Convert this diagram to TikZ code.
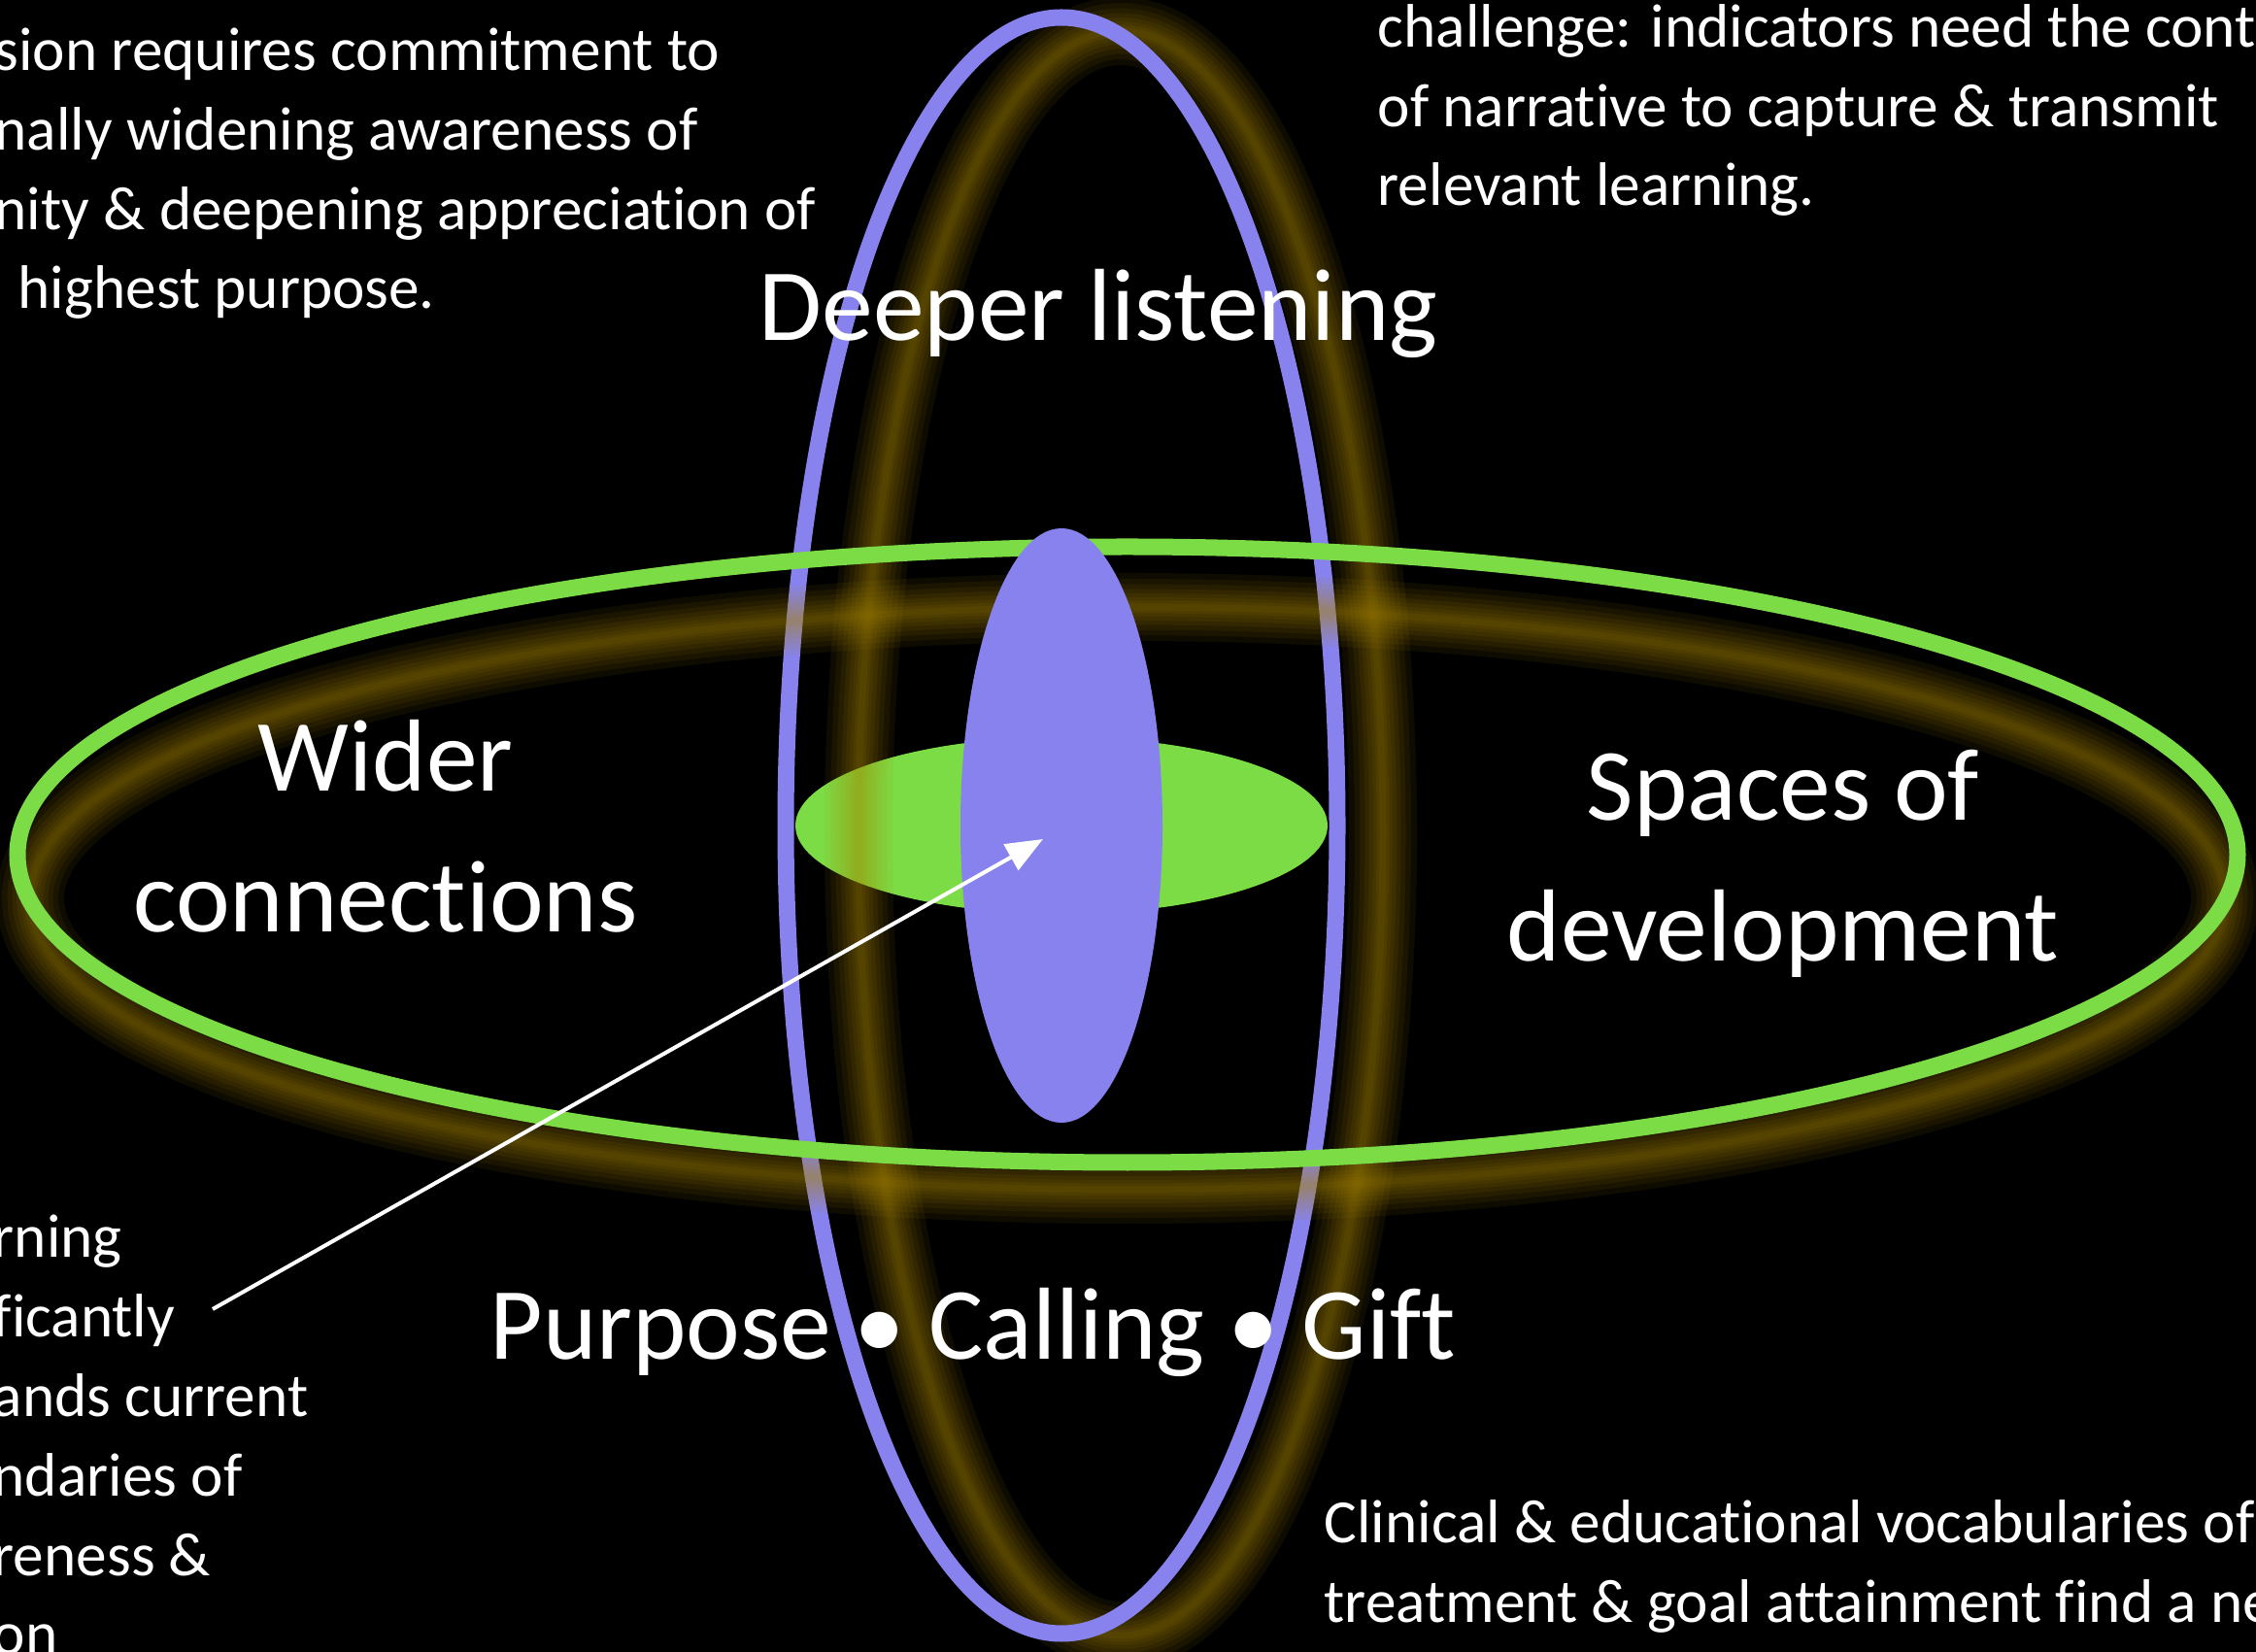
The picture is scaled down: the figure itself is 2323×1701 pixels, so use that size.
\documentclass[tikz,border=0pt]{standalone}
\usepackage{fontspec}
\setmainfont[Ligatures=NoCommon]{Carlito}

\definecolor{ringblue}{RGB}{135,130,238}
\definecolor{ringgreen}{RGB}{123,220,69}
\definecolor{glowgold}{RGB}{170,136,0}

\begin{document}
\begin{tikzpicture}[x=0.01cm, y=-0.01cm,
		ring/.style={line width=0.17cm},
		glow/.style={glowgold, opacity=0.085},
		title/.style={text=white, font=\fontsize{30}{41.3}\selectfont, align=center, inner sep=0pt, anchor=base},
		note/.style={text=white, font=\fontsize{18}{23.3}\selectfont, align=left, inner sep=0pt, anchor=base west}]
			\usetikzlibrary{arrows.meta}
			\fill[black] (0,0) rectangle (2323,1701);
			\useasboundingbox (0,0) rectangle (2323,1701);
			\clip (0,0) rectangle (2323,1701);
			% centres
			\coordinate (core) at (1093,850);
			\coordinate (vglow) at (1154,858);
			\coordinate (hring) at (1161,880);
			\coordinate (hglow) at (1161,925);
			% inner green disc
			\fill[ringgreen] (core) ellipse [x radius=274, y radius=91];
			% vertical glow, then blue ring
			\foreach \w in {0.7,0.58,0.47,0.37,0.28,0.2,0.13,0.07}
				\draw[glow, line width=\w cm] (vglow) ellipse [x radius=270, y radius=826];
			\draw[ringblue, ring] (core) ellipse [x radius=284, y radius=832];
			% horizontal glow, then green ring
			\foreach \w in {0.7,0.58,0.47,0.37,0.28,0.2,0.13,0.07}
				\draw[glow, line width=\w cm] (hglow) ellipse [x radius=1130, y radius=300];
			\draw[ringgreen, ring] (hring) ellipse [x radius=1143, y radius=317];
			% inner blue disc
			\fill[ringblue] (core) ellipse [x radius=104, y radius=306];

			% ring labels (base = last line)
			\node[title] (deeper) at (1131,351) {Deeper listening};
			\node[title] (wider) at (397,960) {Wider\\connections};
			\node[title] (spaces) at (1836,990) {Spaces of\\development};
			\node[title] (purpose) at (1002,1400) {Purpose • Calling • Gift};

			% side notes
			\node[note] (expand) at (-6,318) {sion requires commitment to\\nally widening awareness of\\nity \& deepening appreciation of\\\hspace*{0.38em}highest purpose.};
			\node[note] (challenge) at (1418,212) {challenge: indicators need the conte\\of narrative to capture \& transmit\\relevant learning.};
			\node[note] (learning) at (-8,1704) {rning\\ficantly\\ands current\\ndaries of\\reness \&\\on};
			\node[note] (clinical) at (1363,1670) {Clinical \& educational vocabularies of\\treatment \& goal attainment find a ne};

			% pointer
			\coordinate (tail) at (219,1348);
			\coordinate (tip) at (1074,864);
			\draw[white, line width=0.04cm, -{Triangle[length=0.38cm, width=0.3cm]}] (tail) -- (tip);
\end{tikzpicture}
\end{document}
